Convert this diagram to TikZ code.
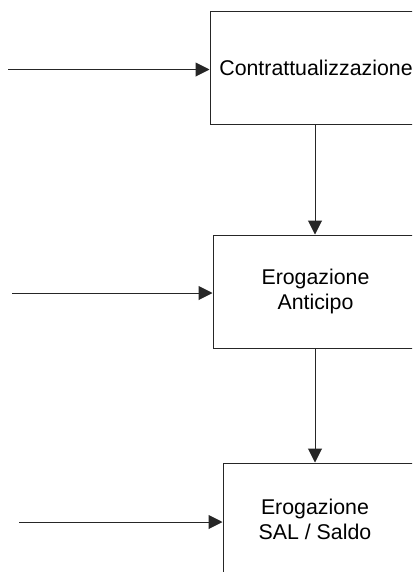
\documentclass[tikz,border=0pt]{standalone}
\usepackage{fontspec}
\setmainfont{Liberation Sans}
\usetikzlibrary{arrows.meta}
\begin{document}
\begin{tikzpicture}[x=0.75pt,y=-0.75pt,
  txt/.style={font=\fontsize{16pt}{19pt}\selectfont, align=center, inner sep=0pt},
  box/.style={draw=black!85, line width=0.75pt, inner sep=0pt, txt},
  arr/.style={-{Triangle[length=10.5pt,width=10.5pt]}, line width=0.75pt, draw=black!85}]
\useasboundingbox (0,0) rectangle (412,572);
\clip (0,0) rectangle (412,572);
\node[box, minimum width=159pt, minimum height=84.75pt] (b1) at (316,67.5) {Contrattualizzazione};
\node[box, minimum width=153.75pt, minimum height=84.75pt] (b2) at (315.5,291.5) {Erogazione\\Anticipo};
\node[box, minimum width=147.75pt, minimum height=84.75pt,
  label={[txt, xshift=-4.9pt]center:Erogazione\\SAL / Saldo}] (b3) at (321.5,519.5) {};
\coordinate (in1) at (8,69.5);
\coordinate (in2) at (12,293);
\coordinate (in3) at (19,522);
\coordinate (vx) at (315,0);
\draw[arr] (in1) -- (in1 -| b1.west);
\draw[arr] (in2) -- (in2 -| b2.west);
\draw[arr] (in3) -- (in3 -| b3.west);
\draw[arr] (b1.south -| vx) -- (b2.north -| vx);
\draw[arr] (b2.south -| vx) -- (b3.north -| vx);
\end{tikzpicture}
\end{document}
